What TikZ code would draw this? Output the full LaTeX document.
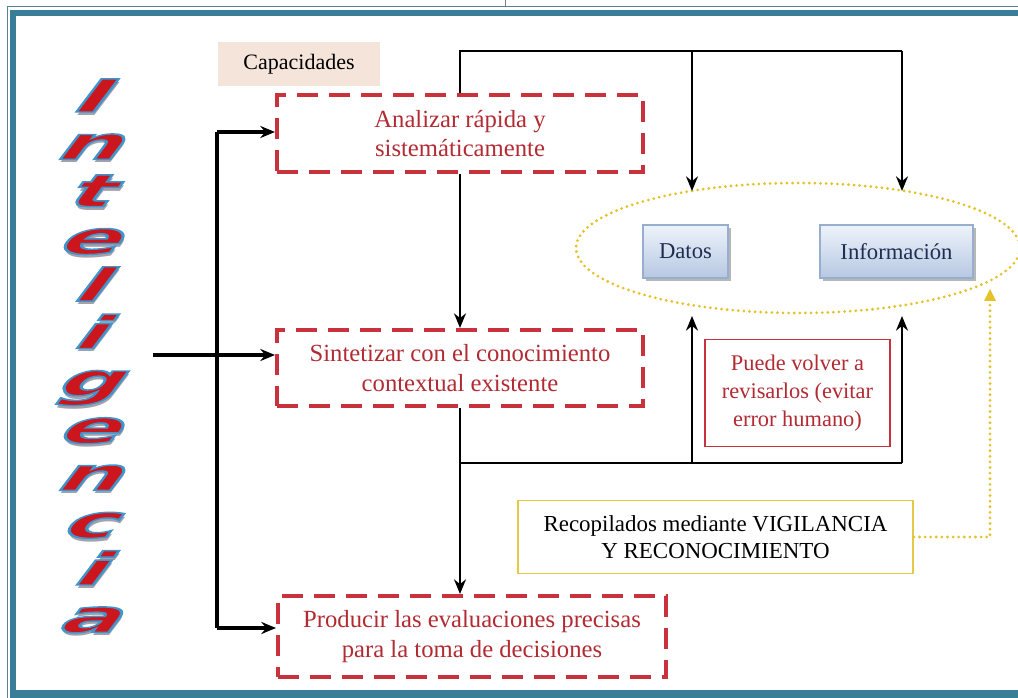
\documentclass[tikz,border=0pt]{standalone}
\usepackage{fontspec}
\setmainfont{Liberation Serif}
\newfontfamily\wafont{DejaVu Sans}
\usetikzlibrary{arrows.meta,shapes.geometric,shadows}

\definecolor{frameteal}{HTML}{3A7D96}
\definecolor{framethin}{HTML}{5C7E8E}
\definecolor{redtxt}{HTML}{B22B33}
\definecolor{redbd}{HTML}{C8323C}
\definecolor{goldline}{HTML}{E6C22A}
\definecolor{goldbox}{HTML}{E4C945}
\definecolor{capfill}{HTML}{F4E4D9}
\definecolor{bluetop}{HTML}{EEF3FA}
\definecolor{bluebot}{HTML}{B6C8E2}
\definecolor{bluebd}{HTML}{97AECF}
\definecolor{navytxt}{HTML}{1F2D52}
\definecolor{warred}{HTML}{CC161E}
\definecolor{warshadow}{HTML}{A2A2AE}

% outlined glyph: red fill with a blue stroke round it
\newcommand\outlined[1]{\special{pdf:literal direct 0.25 0.58 0.80 RG 1.1 w 2 Tr}#1\special{pdf:literal direct 0 Tr}}
% glyph with a grey shadow behind it, lower right
\newcommand\shadowed[1]{\makebox[0pt][l]{\hspace{1.4pt}\raisebox{-2.6pt}{\color{warshadow}#1}}\outlined{#1}}

\begin{document}
\begin{tikzpicture}[x=0.75pt,y=-0.75pt,
  redbox/.style={draw=redbd, line width=3pt, dash pattern=on 16pt off 8pt,
    text=redtxt, font=\fontsize{18.5}{22}\selectfont, align=center, inner sep=0pt},
  bluebox/.style={draw=bluebd, line width=0.8pt, top color=bluetop, bottom color=bluebot,
    text=navytxt, font=\fontsize{17}{20}\selectfont, inner sep=0pt,
    drop shadow={shadow xshift=2pt, shadow yshift=-2pt, fill=gray!70, opacity=0.8}},
  conn/.style={draw=black, line width=1.5pt},
  bracket/.style={draw=black, line width=2.6pt},
  tip/.style={-{Stealth[length=11pt, width=9pt]}},
  golddot/.style={draw=goldline, line width=2.3pt, line cap=round, dash pattern=on 0pt off 4.2pt},
  wa/.style={font=\wafont\bfseries\fontsize{34}{34}\selectfont, anchor=base, inner sep=0pt,
    xscale=2.0, xslant=0.38, transform shape, text=warred}
]
\useasboundingbox (0,0) rectangle (1018,698);
\fill[white] (0,0) rectangle (1018,698);

% page frame
\draw[framethin, line width=0.9pt] (7.5,698) -- (7.5,6.5) -- (1018,6.5);
\fill[frameteal] (10,10) rectangle (1018,16);
\fill[frameteal] (10,10) rectangle (16,698);
\fill[frameteal] (10,690) rectangle (1018,698);
\draw[gray, line width=0.5pt] (505,0) -- (505,6);

% vertical word-art title
\foreach \ch [count=\k from 0] in {I,n,t,e,l,i,g,e,n,c,i,a} {
  \pgfmathsetmacro\yb{112+47.3*\k}
  \node[wa] (L\k) at (85,\yb) {\shadowed{\ch}};
}

% label
\node[fill=capfill, minimum width=121.5pt, minimum height=33pt, inner sep=0pt,
  font=\fontsize{16.5}{19}\selectfont] (cap) at (299,64) {Capacidades};

% capability boxes
\node[redbox, minimum width=274.5pt, minimum height=57.75pt] (b1) at (460,133.5)
  {Analizar rápida y\\sistemáticamente};
\node[redbox, minimum width=274.5pt, minimum height=57pt] (b2) at (460,368)
  {Sintetizar con el conocimiento\\contextual existente};
\node[redbox, minimum width=291pt, minimum height=60.75pt] (b3) at (472,636.5)
  {Producir las evaluaciones precisas\\para la toma de decisiones};

% data / information group
\node[draw=none, ellipse, minimum width=333pt, minimum height=97.5pt] (ell) at (798,248) {};
\draw[golddot] (ell.center) ellipse [x radius=222, y radius=65];
\node[bluebox, minimum width=63.75pt, minimum height=39.75pt] (dat) at (685.5,251.5) {Datos};
\node[bluebox, minimum width=114.75pt, minimum height=39.75pt] (inf) at (896.5,251.5) {Información};

\node[draw=redbd, line width=1.3pt, text=redtxt, align=center, inner sep=0pt,
  minimum width=138.75pt, minimum height=80.25pt, font=\fontsize{16.8}{21}\selectfont]
  (rev) at (797.5,393) {Puede volver a\\revisarlos (evitar\\error humano)};

\node[draw=goldbox, line width=1.3pt, align=center, inner sep=0pt,
  minimum width=296.25pt, minimum height=54.75pt, font=\fontsize{17.2}{20.5}\selectfont]
  (rec) at (715.5,537) {Recopilados mediante VIGILANCIA\\Y RECONOCIMIENTO};

% left bracket
\coordinate (src) at (153,355);
\coordinate (vt) at (217,132);
\coordinate (vb) at (217,628);
\draw[bracket] (vt) -- (vb);
\draw[bracket, tip] (vt) -- (vt -| b1.west);
\draw[bracket, tip] (src) -- (src -| b2.west);
\draw[bracket, tip] (vb) -- (vb -| b3.west);

% upper feed lines
\coordinate (tl) at (460,51);
\coordinate (tm) at (692,51);
\coordinate (tr) at (902,51);
\coordinate (dIn) at (692,191);
\coordinate (iIn) at (902,191);
\draw[conn] (b1.north) -- (tl) -- (tr);
\draw[conn, tip] (tm) -- (dIn);
\draw[conn, tip] (tr) -- (iIn);
\draw[conn, tip] (b1.south) -- (b2.north);

% lower feed lines
\coordinate (bl) at (460,463);
\coordinate (bm) at (692,463);
\coordinate (br) at (902,463);
\coordinate (dUp) at (692,316);
\coordinate (iUp) at (902,316);
\draw[conn] (b2.south) -- (bl) -- (br);
\draw[conn, tip] (bm) -- (dUp);
\draw[conn, tip] (br) -- (iUp);
\draw[conn, tip] (bl) -- (bl |- b3.north);

% gathering link
\coordinate (gEnd) at (990,289);
\draw[golddot] (rec.east) -| ([yshift=-10pt]gEnd);
\draw[draw=none, fill=goldline] (gEnd) -- ++(-6,12) -- ++(12,0) -- cycle;
\end{tikzpicture}
\end{document}
